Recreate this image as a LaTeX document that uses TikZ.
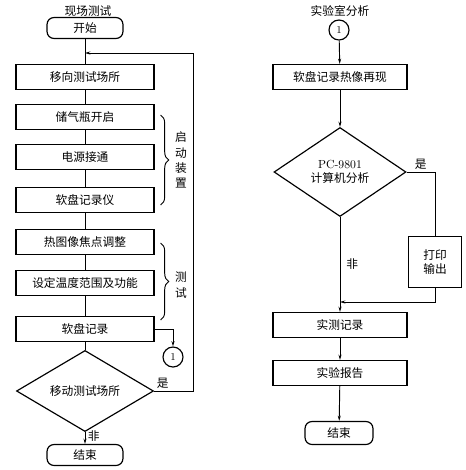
\documentclass[tikz,border=0pt]{standalone}
\usepackage{fontspec}
\newfontfamily\cjk{Noto Sans CJK SC}
\usetikzlibrary{shapes.geometric,arrows.meta,positioning,calc,decorations.pathreplacing}

\begin{document}
\begin{tikzpicture}[
  x=0.03cm, y=-0.03cm,
  every node/.style={font=\cjk\fontsize{10}{12}\selectfont},
  box/.style ={draw, line width=1pt, minimum width=4.14cm, minimum height=0.75cm, inner sep=1pt},
  rbox/.style={box, minimum width=4.02cm},
  term/.style={draw, line width=1pt, rounded corners=6pt, minimum width=2.28cm, minimum height=0.63cm},
  dec/.style ={diamond, draw, line width=1pt, inner sep=0pt},
  conn/.style={circle, draw, line width=1pt, minimum size=0.6cm, inner sep=0pt,
               font=\normalfont\small},
  ln/.style  ={line width=0.8pt},
  arr/.style ={line width=0.8pt, -{Stealth[length=4.5pt,width=2.6pt]}},
  brc/.style ={line width=0.8pt, decorate, decoration={brace, amplitude=7pt}},
  lbl/.style ={inner sep=2pt},
  vtx/.style ={align=center, inner sep=0pt, font=\cjk\fontsize{10}{13}\selectfont}
]
\useasboundingbox (0,0) rectangle (465,470);

%% field test (left)
\node (ttl1) at (88,11) {现场测试};
\node[term] (start) at (85,28)  {开始};
\node[box]  (move)  at (85,77)  {移向测试场所};
\node[box]  (gas)   at (85,117) {储气瓶开启};
\node[box]  (pwr)   at (85,157) {电源接通};
\node[box]  (fdr)   at (85,200) {软盘记录仪};
\node[box]  (fcs)   at (85,242) {热图像焦点调整};
\node[box]  (rng)   at (85,283) {设定温度范围及功能};
\node[box]  (rec)   at (85,329) {软盘记录};
\node[dec, minimum width=4.11cm, minimum height=1.59cm] (mvq) at (85,391) {移动测试场所};
\node[term] (end1)  at (85,455) {结束};
\node[conn] (c1)    at (173,357) {1};
\coordinate (bk) at (85,53);

\foreach \a/\b in {start/move,move/gas,gas/pwr,pwr/fdr,fdr/fcs,fcs/rng,rng/rec,rec/mvq}
  \draw[ln] (\a) -- (\b);
\draw[arr] (mvq) -- node[right, lbl, yshift=2pt] {非} (end1);
\draw[arr] (rec.east) -| (c1);
\draw[arr] (mvq.east) -- node[above, lbl, pos=0.22] {是} ++(39,0) |- (bk);

%% braces
\draw[brc] ($(gas.east)+(6,-2)$) -- ($(fdr.east)+(6,5)$);
\draw[brc] ($(fcs.east)+(6,1)$) -- ($(rec.east)+(6,-9)$);
\node[vtx] (lb1) at (181,160) {启\\动\\装\\置};
\node[vtx] (lb2) at (181,285) {测\\试};

%% laboratory analysis (right)
\node (ttl2) at (340,11) {实验室分析};
\node[conn] (c2)   at (339,30)  {1};
\node[rbox] (play) at (340,77)  {软盘记录热像再现};
\node[dec, minimum width=3.96cm, minimum height=2.67cm, align=center] (pcq) at (340,172)
  {{\normalfont PC-9801}\\计算机分析};
\node[box, minimum width=1.59cm, minimum height=1.53cm, align=center] (prt) at (435,262) {打印\\输出};
\node[rbox] (meas) at (340,325) {实测记录};
\node[rbox] (rpt)  at (340,373) {实验报告};
\node[term, minimum width=2.04cm, minimum height=0.69cm] (end2) at (339,433) {结束};
\coordinate (mrg) at (340,302);

\draw[arr] (c2) -- (play);
\draw[arr] (play) -- (pcq);
\draw[arr] (pcq) -- node[right, lbl, xshift=3pt] {非} (meas);
\draw[ln]  (pcq.east) -| node[above, lbl, pos=0.25] {是} (prt.north);
\draw[arr] (prt.south) |- (mrg);
\draw[arr] (meas) -- (rpt);
\draw[arr] (rpt) -- (end2);
\end{tikzpicture}
\end{document}
